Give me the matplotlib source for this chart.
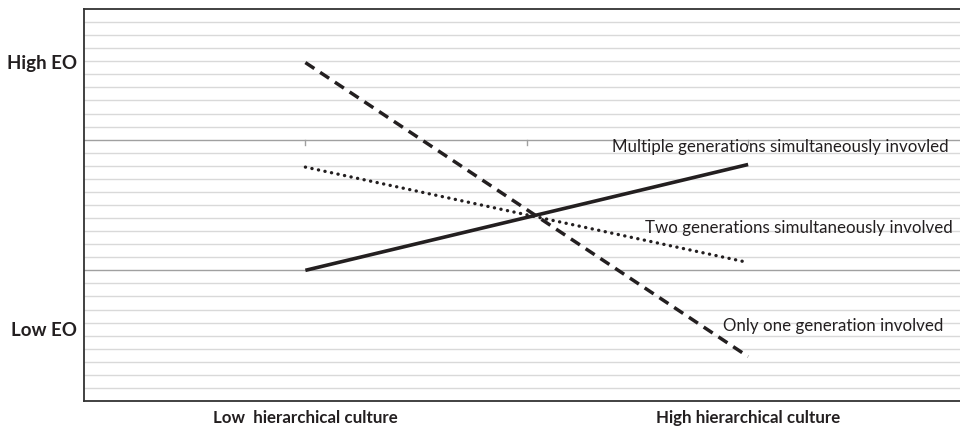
import matplotlib
matplotlib.use("Agg")
import matplotlib.pyplot as plt
import numpy as np

categories = ["Low  hierarchical culture", "High hierarchical culture"]
series_names = ["Multiple generations simultaneously invovled",
                "Two generations simultaneously involved",
                "Only one generation involved"]
multiple = [10.0, 18.1]
two = [17.9, 10.6]
only_one = [25.9, 3.4]
y_labels = ["High EO", "Low EO"]
y_label_vals = [25.85, 5.4]

W, H = 960, 437
fig = plt.figure(figsize=(W/100, H/100), dpi=100)
left, right, top, bottom = 84, 969.5, 9, 401
ax = fig.add_axes([left/W, (H-bottom)/H, (right-left)/W, (bottom-top)/H])
ax.set_xlim(-0.5, 1.5)
ax.set_ylim(0, 30)

# gridlines
for v in range(1, 30):
    major = v in (10, 20)
    ax.axhline(v, color="#a0a0a0" if major else "#d9d9d9", lw=1.0, zorder=0)

# tick marks on axis line at 20
for xt in [0, 0.5, 1.0]:
    ax.plot([xt, xt], [20, 19.6], color="#a0a0a0", lw=1.0, zorder=0)

x = np.arange(len(categories))
ax.plot(x, multiple, color="#231f20", lw=2.6, solid_capstyle="butt", zorder=3)
ax.plot(x, two, color="#231f20", lw=2.4, linestyle=(0, (0.05, 1.95)),
        dash_capstyle="round", zorder=3)
ax.plot(x, only_one, color="#231f20", lw=2.5, linestyle=(0, (3.1, 2.0)),
        dash_capstyle="butt", zorder=3)

font = "Lato"
txt_kw = dict(fontsize=12.2, family=font, color="#231f20", va="center", ha="left")
ax.text(0.693, 19.44, series_names[0], **txt_kw)
ax.text(0.7675, 13.24, series_names[1], **txt_kw)
ax.text(0.9436, 5.74, series_names[2], **txt_kw)

for s in ["left", "bottom", "top", "right"]:
    ax.spines[s].set_color("#333333")
    ax.spines[s].set_linewidth(1.3)
ax.set_xticks([])
ax.set_yticks([])

for lab, v in zip(y_labels, y_label_vals):
    ax.text(-0.008, v/30, lab, transform=ax.transAxes, ha="right", va="center",
            fontsize=13.5, fontweight="bold", family=font, color="#231f20")

for xc, lab in zip(x, categories):
    ax.text(xc, -1.3, lab, ha="center", va="center",
            fontsize=12.2, fontweight="bold", family=font, color="#231f20")

fig.savefig("out.png", dpi=100)
